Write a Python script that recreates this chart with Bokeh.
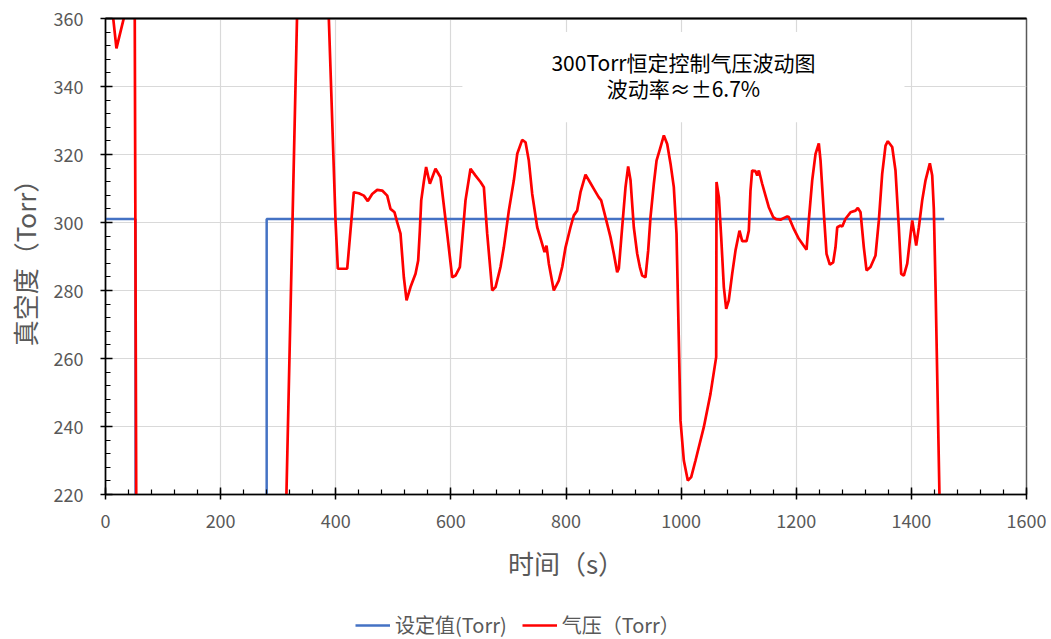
from bokeh.plotting import figure
from bokeh.layouts import column
from bokeh.models import (Range1d, LinearAxis, Legend, LegendItem, Label,
                          BoxAnnotation, SingleIntervalTicker, FixedTicker)
from bokeh.embed import file_html
from bokeh.resources import INLINE

# ---------------- data ----------------
setpoint_time = [0, 52, 53, 280, 280, 1457]
setpoint_torr = [301, 301, 0, 0, 301, 301]

pressure_time = [
    0, 8, 19, 36, 45, 50.8, 53.4, 56, 300, 313, 334, 360, 386,
    399.6, 403.6, 419.9, 431.4, 440, 448.8, 455.7, 463.3, 472, 480.7, 489.4,
    495.1, 502.1, 506.7, 512.5, 518.3, 523, 529.9, 538.6, 543.2, 546.1, 548.5,
    553, 557, 563.5, 573.3, 582, 593.6, 602.3, 608, 615.6, 619.6, 625.4, 634.1,
    642.8, 651.5, 657.3, 663.1, 671.8, 677.6, 683.3, 686.2, 692, 700.7, 709.4,
    715.3, 723.9, 729.7, 735.4, 741.3, 750, 756.9, 762.7, 766.1, 770.2, 778.8,
    787.5, 793.4, 799.2, 807.8, 813.6, 819.4, 825.2, 833.9, 841.4, 848.3, 857,
    861.1, 865.7, 877.3, 883.1, 888.9, 891.8, 897.6, 903.4, 908, 912.1, 917.8,
    923.7, 928.3, 932.4, 938.1, 942.8, 946.8, 952.6, 957.3, 964.2, 970, 975.8,
    981.6, 987.3, 992, 996, 998.9, 1004.7, 1011.6, 1017.5, 1025, 1039.4, 1051,
    1060.9, 1061.5, 1065.6, 1069.6, 1074.2, 1078.3, 1082.8, 1088.7, 1094.5,
    1101.4, 1106.1, 1113.6, 1117.6, 1120.5, 1123.4, 1129.2, 1132.2, 1135,
    1140.8, 1146.6, 1152.3, 1159.9, 1165, 1172.6, 1184.3, 1187, 1195.8, 1204.5,
    1217.9, 1221.8, 1227.7, 1233.5, 1239.2, 1242.2, 1248, 1252.6, 1258.3,
    1264.2, 1268.2, 1271.2, 1277, 1279.9, 1285.6, 1294.3, 1303, 1307, 1311.7,
    1317.4, 1322.1, 1329, 1337.7, 1343.5, 1349.3, 1355.1, 1359.1, 1366.7,
    1372.4, 1378.2, 1382.3, 1386.9, 1392.8, 1397.3, 1401.5, 1408.4, 1413,
    1418.8, 1424.6, 1432.1, 1436.2, 1439, 1442, 1449, 1455,
]
pressure_torr = [
    380, 368.6, 351.2, 363, 372, 362, 218, 0, 0, 210, 370, 400, 370,
    300.6, 286.4, 286.4, 308.9, 308.6, 307.9, 306.3, 308.4, 309.6, 309.4, 307.9,
    304.0, 303.0, 300.1, 296.7, 283.9, 277.1, 281.0, 284.9, 288.8, 297.6, 306.5,
    312, 316.3, 311.4, 315.8, 313.3, 296.7, 283.9, 284.4, 286.9, 294.7, 306.5, 315.8,
    313.8, 311.9, 310.4, 296.7, 280, 281, 284.9, 286.9, 292.7, 303.5, 312.4,
    320.2, 324.3, 323.6, 318.2, 308.4, 298.6, 294.7, 291.3, 293.2, 287.9, 280,
    282.9, 286.9, 292.7, 298.6, 302.1, 303.5, 308.9, 314.1, 311.9, 309.9, 307.4,
    306.5, 303.5, 295.7, 290.8, 285.4, 286.5, 298.6, 310.4, 316.5, 312.4, 298.6,
    290.8, 286.9, 284.4, 283.9, 291.8, 301.6, 311.4, 318.2, 322.2, 325.6, 323.1,
    317.3, 310.4, 296.7, 265.3, 241.8, 230, 224.1, 225.1, 230, 239.8, 249.6,
    260.4, 311.9, 307.4, 295.7, 281, 274.6, 277.1, 284.9, 291.8,
    297.6, 294.5, 294.5, 297.6, 309.4, 315.3, 315.1, 313.8, 315.3,
    311.4, 307.9, 304.5, 301.6, 301, 300.8, 301.8, 301.6, 298.1, 295.2,
    292, 300.6, 312.4, 320.2, 323.3, 318.2, 302.5, 290.8, 287.6,
    288.3, 292.7, 298.6, 299.1, 298.8, 301.1, 303, 303.5, 304.3, 303,
    292.7, 285.9, 286.9, 290.3, 300.6, 314.3, 322.6, 323.9, 322.2,
    315.3, 298.6, 284.9, 284.4, 287.9, 294.7, 300.6, 293.2, 298.6,
    306.5, 312.4, 317.4, 313.8, 304, 281, 218, 0,
]

title_lines = ["300Torr恒定控制气压波动图", "波动率≈±6.7%"]
x_title = "时间（s）"
y_title = "真空度（Torr）"
legend_labels = ["设定值(Torr)", "气压（Torr）"]
series_colors = ["#4472C4", "#FF0000"]

FONT = "Noto Sans CJK SC"
GRAY = "#595959"
NAN = float("nan")

p = figure(frame_width=921, frame_height=476, output_backend="svg",
           toolbar_location=None,
           x_range=Range1d(0, 1600), y_range=Range1d(220, 360),
           min_border_left=105, min_border_right=20, min_border_top=18,
           min_border_bottom=105)
p.background_fill_color = "white"
p.border_fill_color = "white"
p.outline_line_color = "#595959"
p.outline_line_width = 1.5

p.xaxis.ticker = SingleIntervalTicker(interval=200, num_minor_ticks=5)
p.yaxis.ticker = SingleIntervalTicker(interval=20, num_minor_ticks=5)
p.xgrid.ticker = SingleIntervalTicker(interval=200, num_minor_ticks=5)
p.ygrid.ticker = SingleIntervalTicker(interval=20, num_minor_ticks=5)
for g in (p.xgrid, p.ygrid):
    g.grid_line_color = "#D9D9D9"
    g.grid_line_width = 1.2

for ax in (p.xaxis, p.yaxis):
    ax.axis_line_color = "black"
    ax.axis_line_width = 1.5
    ax.major_tick_line_color = "black"
    ax.minor_tick_line_color = "black"
    ax.major_tick_line_width = 1.5
    ax.minor_tick_line_width = 1.2
    ax.major_tick_in = 7
    ax.major_tick_out = 5
    ax.minor_tick_in = 5
    ax.minor_tick_out = 0
    ax.major_label_text_font = FONT
    ax.major_label_text_font_size = "18px"
    ax.major_label_text_color = GRAY
    ax.axis_label_text_font = FONT
    ax.axis_label_text_font_size = "26px"
    ax.axis_label_text_color = GRAY
    ax.axis_label_text_font_style = "normal"

p.xaxis.axis_label = x_title
p.yaxis.axis_label = y_title
p.xaxis.major_label_standoff = 14
p.yaxis.major_label_standoff = 17
p.xaxis.axis_label_standoff = 13
p.yaxis.axis_label_standoff = 8

top_axis = LinearAxis(axis_line_color="black", axis_line_width=2,
                      ticker=FixedTicker(ticks=[]),
                      major_tick_line_color=None, minor_tick_line_color=None)
p.add_layout(top_axis, "above")

p.line(setpoint_time, setpoint_torr, line_color=series_colors[0], line_width=2.5)
p.line(pressure_time, pressure_torr, line_color=series_colors[1], line_width=2.7)

box = BoxAnnotation(left=620, right=1388, bottom=329.5, top=356,
                    fill_color="white", fill_alpha=1, line_color=None)
p.add_layout(box)
for txt, yv in zip(title_lines, [347.1, 339.7]):
    p.add_layout(Label(x=1004, y=yv, text=txt, text_align="center",
                       text_baseline="middle", text_font=FONT,
                       text_font_size="21px", text_color="black"))

# ---- legend strip below the chart ----
leg = figure(frame_width=1046, frame_height=40, output_backend="svg",
             toolbar_location=None, x_axis_location=None, y_axis_location=None,
             x_range=Range1d(0, 1), y_range=Range1d(0, 1),
             min_border_left=0, min_border_right=0, min_border_top=0,
             min_border_bottom=0)
leg.grid.visible = False
leg.outline_line_color = None
leg.background_fill_color = "white"
leg.border_fill_color = "white"
leg_renderers = [leg.line(x=[NAN], y=[NAN], line_color=c, line_width=2.5)
                 for c in series_colors]
legend = Legend(items=[LegendItem(label=lab, renderers=[r])
                       for lab, r in zip(legend_labels, leg_renderers)],
                orientation="horizontal", location=(355, 0),
                border_line_color=None, background_fill_alpha=0,
                padding=0, margin=0, spacing=15, glyph_width=35,
                label_standoff=5, label_text_font=FONT,
                label_text_font_size="20px", label_text_color=GRAY)
leg.add_layout(legend, "center")

layout = column(p, leg, spacing=0)
open("out.html", "w").write(file_html(layout, INLINE))
